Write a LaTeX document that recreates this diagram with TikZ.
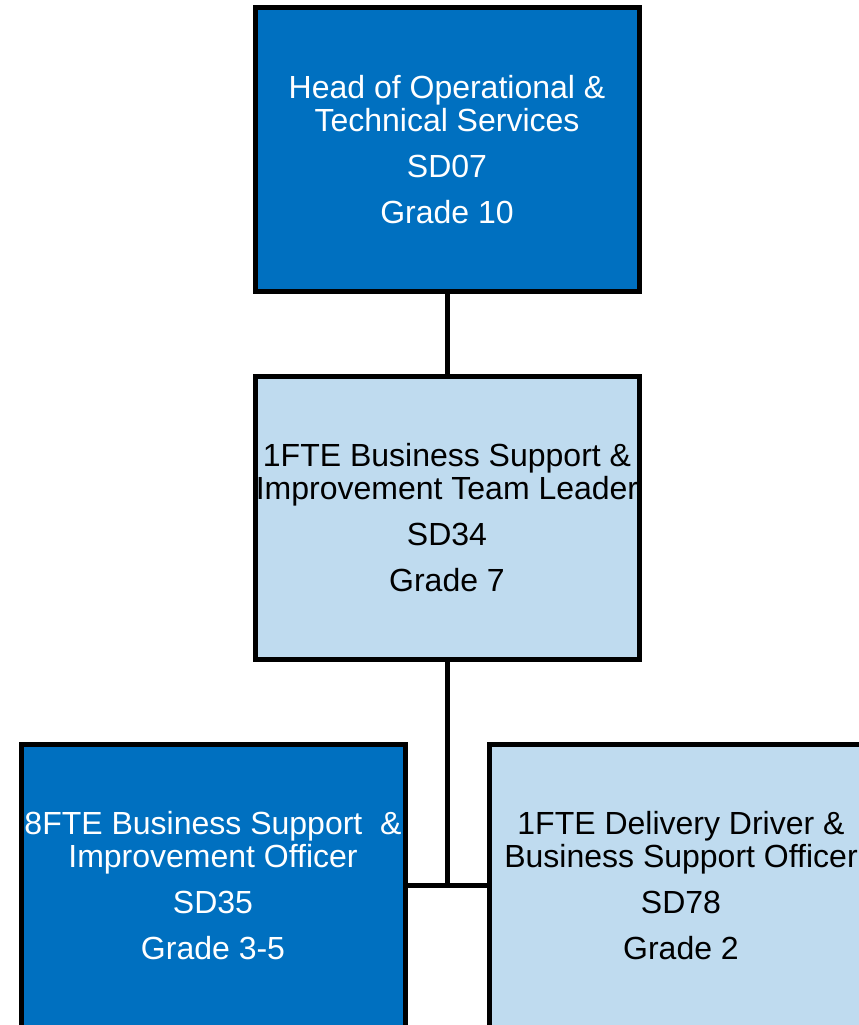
\documentclass[tikz,border=0pt]{standalone}
\usepackage{fontspec}
\setmainfont{Liberation Sans}
\usepackage{tikz}
\definecolor{darkpost}{HTML}{0070C0}
\definecolor{lightpost}{HTML}{BFDBEF}
\newcommand\W{384}
\newcommand\G{13pt}

\begin{document}
\begin{tikzpicture}[x=1pt,y=-1pt,line width=5pt]

  \tikzstyle{every node}=[rectangle,draw,align=center,inner sep=0pt,
                          minimum width=\W pt,minimum height=283pt,
                          font=\fontsize{32}{33}\selectfont]
  \tikzstyle{dark}=[fill=darkpost,text=white]
  \tikzstyle{light}=[fill=lightpost,text=black]

  \clip (0,0) rectangle (859,1025);

  \node[dark]  (HOTS) at (447,149.5) {Head of Operational \&\\Technical Services\\[\G]SD07\\[\G]Grade 10};

  \node[light] (BSTL) at (447,517.5) {1FTE Business Support \&\\Improvement Team Leader\\[\G]SD34\\[\G]Grade 7};

  \node[dark]  (BSIO) at (213,885.5) {8FTE Business Support~~\&\\Improvement Officer\\[\G]SD35\\[\G]Grade 3-5};
  \node[light] (DDBS) at (681,885.5) {1FTE Delivery Driver \&\\Business Support Officer\\[\G]SD78\\[\G]Grade 2};

  \coordinate (J) at (447,885.5);

  \draw (HOTS) -- (BSTL);
  \draw (BSTL) -- (J);
  \draw (BSIO) -- (DDBS);

\end{tikzpicture}
\end{document}
